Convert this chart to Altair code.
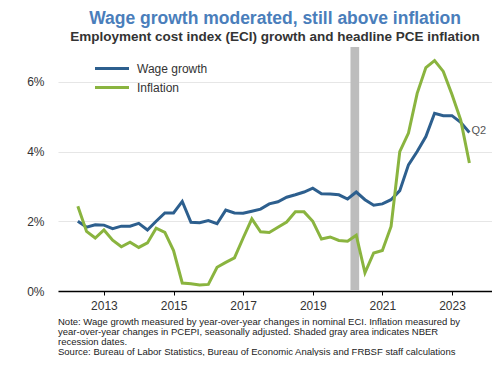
import altair as alt
import pandas as pd

# ---- data ----
quarters = [
    "2012 Q1", "2012 Q2", "2012 Q3", "2012 Q4",
    "2013 Q1", "2013 Q2", "2013 Q3", "2013 Q4",
    "2014 Q1", "2014 Q2", "2014 Q3", "2014 Q4",
    "2015 Q1", "2015 Q2", "2015 Q3", "2015 Q4",
    "2016 Q1", "2016 Q2", "2016 Q3", "2016 Q4",
    "2017 Q1", "2017 Q2", "2017 Q3", "2017 Q4",
    "2018 Q1", "2018 Q2", "2018 Q3", "2018 Q4",
    "2019 Q1", "2019 Q2", "2019 Q3", "2019 Q4",
    "2020 Q1", "2020 Q2", "2020 Q3", "2020 Q4",
    "2021 Q1", "2021 Q2", "2021 Q3", "2021 Q4",
    "2022 Q1", "2022 Q2", "2022 Q3", "2022 Q4",
    "2023 Q1", "2023 Q2",
]
wage_growth = [
    2.00, 1.83, 1.90, 1.89,
    1.79, 1.86, 1.86, 1.94,
    1.75, 2.00, 2.24, 2.24,
    2.57, 1.97, 1.96, 2.02,
    1.93, 2.32, 2.24, 2.23,
    2.29, 2.35, 2.50, 2.56,
    2.69, 2.76, 2.84, 2.95,
    2.79, 2.78, 2.76, 2.64,
    2.84, 2.62, 2.46, 2.50,
    2.62, 2.88, 3.62, 4.00,
    4.43, 5.10, 5.03, 5.03,
    4.84, 4.55,
]
inflation = [
    2.43, 1.71, 1.52, 1.75,
    1.46, 1.27, 1.40, 1.25,
    1.38, 1.80, 1.68, 1.16,
    0.23, 0.21, 0.17, 0.19,
    0.68, 0.82, 0.95, 1.52,
    2.07, 1.70, 1.68, 1.83,
    1.98, 2.27, 2.27, 2.00,
    1.49, 1.55, 1.45, 1.43,
    1.60, 0.52, 1.09, 1.16,
    1.85, 4.00, 4.53, 5.67,
    6.41, 6.61, 6.30, 5.64,
    4.91, 3.67,
]
series_names = ["Wage growth", "Inflation"]
series_colors = ["#2D5F8E", "#8AB43F"]
recession_start = ["2020-02"]
recession_end = ["2020-04"]
year_ticks = [2013, 2015, 2017, 2019, 2021, 2023]
pct_ticks = [0, 2, 4, 6]
title_text = "Wage growth moderated, still above inflation"
subtitle_text = "Employment cost index (ECI) growth and headline PCE inflation"
note_lines = [
    "Note: Wage growth measured by year-over-year changes in nominal ECI. Inflation measured by",
    "year-over-year changes in PCEPI, seasonally adjusted. Shaded gray area indicates NBER",
    "recession dates.",
    "Source: Bureau of Labor Statistics, Bureau of Economic Analysis and FRBSF staff calculations",
]
end_label = "Q2"

FONT = "Liberation Sans"
PLOT_W = 434
PLOT_H = 244


def quarter_pos(label):
    y, q = label.split(" Q")
    return int(y) + int(q) / 4.0  # end of quarter


def month_pos(ym, end=False):
    y, m = ym.split("-")
    return int(y) + (int(m) - (0 if end else 1)) / 12.0


rows = []
for name, vals in zip(series_names, [wage_growth, inflation]):
    for q, v in zip(quarters, vals):
        rows.append({"series": name, "quarter": q, "t": quarter_pos(q), "value": v})
df = pd.DataFrame(rows)

rec_df = pd.DataFrame({
    "start": [month_pos(s) for s in recession_start],
    "end": [month_pos(e, end=True) for e in recession_end],
})

last_df = pd.DataFrame({
    "t": [quarter_pos(quarters[-1])],
    "value": [wage_growth[-1]],
    "label": [end_label],
})

note_df = pd.DataFrame({"note": ["\n".join(note_lines)]})

x_scale = alt.Scale(domain=[2011.68, 2024.15], nice=False, zero=False)
y_scale = alt.Scale(domain=[0, 7], nice=False, zero=True)

x_axis = alt.Axis(
    values=year_ticks, format="d", title=None, grid=False,
    labelFont=FONT, labelFontSize=12, labelColor="#333333", labelPadding=5,
    tickColor="#000000", tickSize=4, tickWidth=1,
    domainColor="#000000", domainWidth=1.5,
)
y_axis = alt.Axis(
    values=pct_ticks, labelExpr="datum.value + '%'", title=None,
    grid=True, gridColor="#e6e6e6", gridWidth=1.2,
    domain=False, ticks=False,
    labelFont=FONT, labelFontSize=12, labelColor="#333333", labelPadding=14,
)

rec = alt.Chart(rec_df).mark_rect(color="#bdbdbd").encode(
    x=alt.X("start:Q", scale=x_scale, axis=x_axis),
    x2="end:Q",
    y=alt.value(0),
    y2=alt.value(PLOT_H),
)

lines = alt.Chart(df).mark_line(strokeWidth=3).encode(
    x=alt.X("t:Q", scale=x_scale, axis=x_axis),
    y=alt.Y("value:Q", scale=y_scale, axis=y_axis),
    color=alt.Color(
        "series:N",
        scale=alt.Scale(domain=series_names, range=series_colors),
        sort=series_names,
        legend=alt.Legend(
            title=None, orient="none", legendX=43.5, legendY=11,
            symbolType="M-2,0H2", symbolSize=289, symbolStrokeWidth=3.2,
            labelFont=FONT, labelFontSize=12, labelColor="#333333",
            labelOffset=14.5, rowPadding=2,
        ),
    ),
    detail="series:N",
)

q_label = alt.Chart(last_df).mark_text(
    align="left", baseline="middle", dx=2, dy=-1,
    font=FONT, fontSize=11, color="#555555",
).encode(
    x=alt.X("t:Q", scale=x_scale),
    y=alt.Y("value:Q", scale=y_scale),
    text="label:N",
)

notes = alt.Chart(note_df).mark_text(
    align="left", baseline="top", lineBreak="\n", lineHeight=10,
    font=FONT, fontSize=9.5, color="#222222",
).encode(
    x=alt.value(0),
    y=alt.value(270),
    text="note:N",
)

chart = alt.layer(rec, lines, q_label, notes).properties(
    width=PLOT_W,
    height=PLOT_H,
    title=alt.TitleParams(
        text=title_text, subtitle=subtitle_text,
        font=FONT, fontSize=17.5, fontWeight="bold", color="#4A7EBB",
        subtitleFont=FONT, subtitleFontSize=13.5, subtitleFontWeight="bold",
        subtitleColor="#333333", subtitlePadding=2,
        anchor="middle", offset=4,
    ),
    autosize=alt.AutoSizeParams(type="none"),
    padding={"left": 50, "top": 39, "right": 0, "bottom": 65},
).configure_view(stroke=None)

chart.save("out.html", embed_options={"renderer": "svg", "actions": False})
